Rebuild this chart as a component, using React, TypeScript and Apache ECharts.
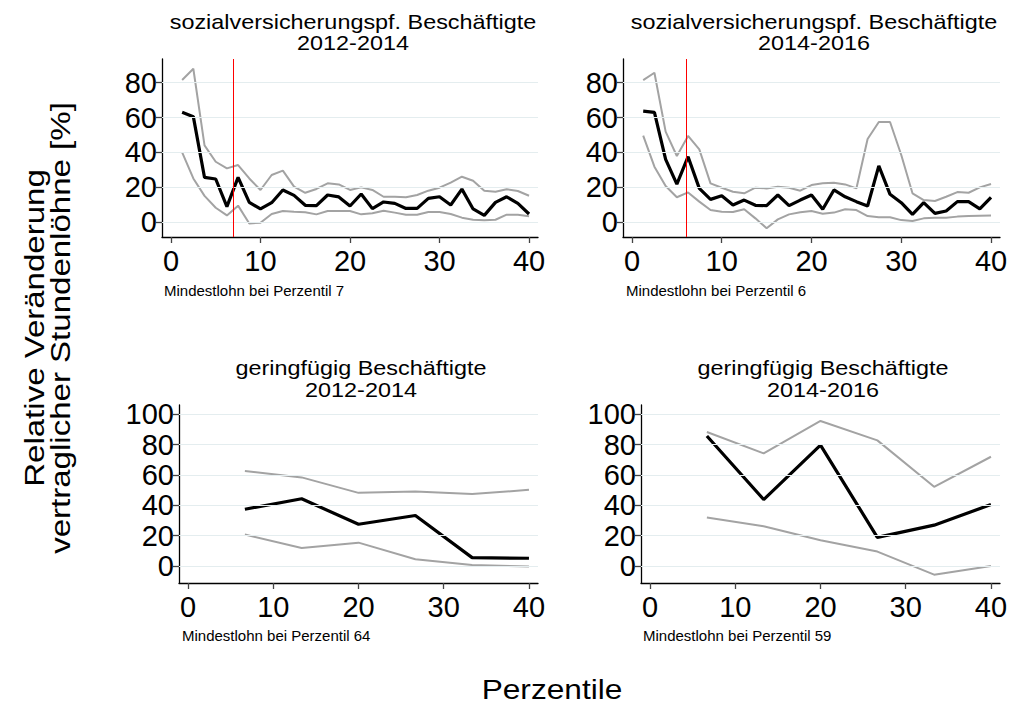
import React, { useEffect, useRef } from "react";
import * as echarts from "echarts";

// x positions (percentiles) of the estimates
const xSv = [1.25, 2.5, 3.75, 5, 6.25, 7.5, 8.75, 10, 11.25, 12.5, 13.75, 15, 16.25, 17.5, 18.75, 20, 21.25, 22.5, 23.75, 25, 26.25, 27.5, 28.75, 30, 31.25, 32.5, 33.75, 35, 36.25, 37.5, 38.75, 40];
const xGf = [6.67, 13.33, 20, 26.67, 33.33, 40];

// sozialversicherungspf. Beschäftigte 2012-2014
const svMean1214 = [63, 60.5, 25.6, 24.7, 8.8, 25.6, 11.3, 7.5, 11.1, 18.4, 15.3, 9.6, 9.4, 15.5, 14.4, 9.2, 16.1, 7.7, 11.5, 10.7, 7.8, 7.8, 13.6, 14.5, 9.8, 18.9, 7.5, 3.8, 11.3, 14.5, 10.7, 4.6];
const svUp1214 = [81.5, 88, 44, 34.6, 30.8, 32.7, 25, 18.4, 27, 29.5, 20.3, 16.8, 19, 22.2, 21.6, 18.4, 19.9, 18.4, 14.5, 14.5, 14.2, 15.5, 18, 19.7, 22.6, 26, 23.7, 18, 17.4, 18.8, 17.8, 15.1];
const svLo1214 = [40, 25, 15, 8.2, 3.8, 9.4, -0.8, -0.4, 4.6, 6.3, 5.9, 5.6, 4.4, 6.3, 6.3, 6.3, 4.4, 5, 6.5, 5.4, 4.2, 4.2, 5.7, 5.7, 4.6, 2.5, 1.3, 1, 1.3, 4.2, 4.2, 3.3];

// sozialversicherungspf. Beschäftigte 2014-2016
const svMean1416 = [63.7, 63, 36, 21.8, 37.5, 19.3, 13, 15.1, 9.8, 12.6, 9.6, 9.4, 15.5, 9.4, 12.6, 15.5, 7.3, 18.4, 14.5, 11.7, 9.2, 32.2, 15.9, 11.1, 4.4, 11.1, 5, 6.3, 11.7, 11.7, 7.5, 14.2];
const svUp1416 = [81.5, 85.7, 51.9, 37.9, 49.4, 41.7, 22.2, 19.7, 17.4, 16.5, 19.7, 19.3, 20.3, 19.7, 18, 21.2, 22.2, 22.6, 21.6, 19.3, 47.7, 57.4, 57.4, 38.5, 16.5, 12.6, 12.1, 14.5, 17.2, 16.8, 19.9, 21.8];
const svLo1416 = [49.6, 31.8, 20.7, 14.2, 17, 11.7, 6.9, 5.9, 5.7, 7.3, 2.1, -3.6, 1.5, 4.4, 5.6, 6.3, 4.8, 5.4, 7.3, 6.9, 3.4, 2.7, 2.7, 1.1, 0.6, 2.1, 2.5, 2.5, 3.1, 3.4, 3.6, 3.8];

// geringfügig Beschäftigte
const gfMean1214 = [37.4, 44.3, 27.5, 33.3, 5.5, 5.1];
const gfUp1214 = [62.6, 58.4, 48.2, 49.1, 47.4, 50.2];
const gfLo1214 = [20.7, 11.9, 15.4, 4.4, 0.7, -0.4];
const gfMean1416 = [85.7, 43.8, 79.7, 18.9, 26.9, 40.5];
const gfUp1416 = [88.3, 74.2, 95.6, 82.8, 52.2, 72];
const gfLo1416 = [31.9, 26.2, 17, 9.5, -5.7, 0];

const xTicks = [0, 10, 20, 30, 40];
const yTicksTop = [0, 20, 40, 60, 80];
const yTicksBottom = [0, 20, 40, 60, 80, 100];

const panelTitles = [
  ["sozialversicherungspf. Beschäftigte", "2012-2014"],
  ["sozialversicherungspf. Beschäftigte", "2014-2016"],
  ["geringfügig Beschäftigte", "2012-2014"],
  ["geringfügig Beschäftigte", "2014-2016"],
];
const minWagePercentile = [7, 6, 64, 59];
const yAxisTitle = ["Relative Veränderung", "vertraglicher Stundenlöhne [%]"];
const xAxisTitle = "Perzentile";

const FONT = "'Liberation Sans', Arial, Helvetica, sans-serif";

export default function App() {
  const ref = useRef<HTMLDivElement>(null);

  useEffect(() => {
    if (!ref.current) return;
    const chart = echarts.init(ref.current, undefined, { renderer: "svg" });

    const grids = [
      { left: 162, top: 59, width: 376, height: 178 },
      { left: 623, top: 59, width: 377, height: 178 },
      { left: 179, top: 405, width: 359, height: 178 },
      { left: 641, top: 405, width: 359, height: 178 },
    ];
    const xRanges = [
      [-1, 41],
      [-1, 41],
      [-1.06, 41.06],
      [-1.06, 41.06],
    ];
    const yRanges = [
      [-8.6, 93.6],
      [-8.6, 93.6],
      [-11.2, 106.1],
      [-11.2, 106.1],
    ];
    const yTickSets = [yTicksTop, yTicksTop, yTicksBottom, yTicksBottom];

    const panels = [
      { x: xSv, mean: svMean1214, up: svUp1214, lo: svLo1214 },
      { x: xSv, mean: svMean1416, up: svUp1416, lo: svLo1416 },
      { x: xGf, mean: gfMean1214, up: gfUp1214, lo: gfLo1214 },
      { x: xGf, mean: gfMean1416, up: gfUp1416, lo: gfLo1416 },
    ];

    const xAxes = grids.map((_, i) => ({
      type: "value",
      gridIndex: i,
      min: xRanges[i][0],
      max: xRanges[i][1],
      axisLine: { show: true, onZero: false, lineStyle: { color: "#000", width: 1.3 } },
      axisTick: { show: true, length: 6, customValues: xTicks, lineStyle: { color: "#444", width: 1.3 } },
      axisLabel: { customValues: xTicks, fontSize: 29, color: "#000", margin: 9, fontFamily: FONT },
      splitLine: { show: false },
    }));
    const yAxes = grids.map((_, i) => ({
      type: "value",
      gridIndex: i,
      min: yRanges[i][0],
      max: yRanges[i][1],
      axisLine: { show: true, onZero: false, lineStyle: { color: "#000", width: 1.3 } },
      axisTick: { show: true, length: 6, customValues: yTickSets[i], lineStyle: { color: "#444", width: 1.3 } },
      axisLabel: { customValues: yTickSets[i], fontSize: 29, color: "#000", margin: 5, fontFamily: FONT },
      splitLine: { show: false },
    }));

    const series: any[] = [];
    panels.forEach((p, i) => {
      // grid lines
      series.push({
        type: "line",
        xAxisIndex: i,
        yAxisIndex: i,
        data: [],
        z: 1,
        silent: true,
        markLine: {
          silent: true,
          symbol: "none",
          label: { show: false },
          lineStyle: { color: "#e4edef", width: 1.2, type: "solid" },
          data: yTickSets[i].map((v) => ({ yAxis: v })),
        },
      });
      const mk = (vals: number[]) => p.x.map((x, j) => [x, vals[j]]);
      series.push({
        type: "line",
        xAxisIndex: i,
        yAxisIndex: i,
        data: mk(p.up),
        symbol: "none",
        z: 2,
        lineStyle: { color: "#a3a3a3", width: 2 },
      });
      series.push({
        type: "line",
        xAxisIndex: i,
        yAxisIndex: i,
        data: mk(p.lo),
        symbol: "none",
        z: 2,
        lineStyle: { color: "#a3a3a3", width: 2 },
      });
      const mw = minWagePercentile[i];
      series.push({
        type: "line",
        xAxisIndex: i,
        yAxisIndex: i,
        data: mk(p.mean),
        symbol: "none",
        z: 3,
        lineStyle: { color: "#000", width: 3.2 },
        markLine:
          mw <= 40
            ? {
                silent: true,
                symbol: "none",
                label: { show: false },
                lineStyle: { color: "#ff0000", width: 1, type: "solid" },
                data: [{ xAxis: mw }],
              }
            : undefined,
      });
    });

    const titleCenters = [353, 814, 361, 823];
    const titleY = [
      [21.7, 43.3],
      [21.7, 43.3],
      [368.3, 390],
      [368.3, 390],
    ];
    const noteX = [164, 626, 182, 643];
    const noteY = [290, 290, 635, 635];

    const graphic: any[] = [];
    panelTitles.forEach((lines, i) => {
      lines.forEach((t, k) => {
        graphic.push({
          type: "text",
          x: titleCenters[i],
          y: titleY[i][k],
          scaleX: 1.17,
          style: {
            text: t,
            fontSize: 20,
            fontFamily: FONT,
            fill: "#000",
            align: "center",
            verticalAlign: "middle",
          },
        });
      });
      graphic.push({
        type: "text",
        x: noteX[i],
        y: noteY[i],
        style: {
          text: "Mindestlohn bei Perzentil " + minWagePercentile[i],
          fontSize: 15,
          fontFamily: FONT,
          fill: "#000",
          align: "left",
          verticalAlign: "middle",
        },
      });
    });
    const yTitleX = [34, 60];
    yAxisTitle.forEach((t, k) => {
      graphic.push({
        type: "text",
        x: yTitleX[k],
        y: 328,
        rotation: Math.PI / 2,
        scaleX: 1.18,
        style: {
          text: t,
          fontSize: 28,
          fontFamily: FONT,
          fill: "#000",
          align: "center",
          verticalAlign: "middle",
        },
      });
    });
    graphic.push({
      type: "text",
      x: 552,
      y: 689,
      scaleX: 1.13,
      style: {
        text: xAxisTitle,
        fontSize: 28,
        fontFamily: FONT,
        fill: "#000",
        align: "center",
        verticalAlign: "middle",
      },
    });

    chart.setOption({
      animation: false,
      backgroundColor: "#fff",
      grid: grids,
      xAxis: xAxes,
      yAxis: yAxes,
      series,
      graphic,
    });

    return () => chart.dispose();
  }, []);

  return (
    <div
      ref={ref}
      style={{ position: "fixed", left: 0, top: 0, width: 1011, height: 704, background: "#fff" }}
    />
  );
}
